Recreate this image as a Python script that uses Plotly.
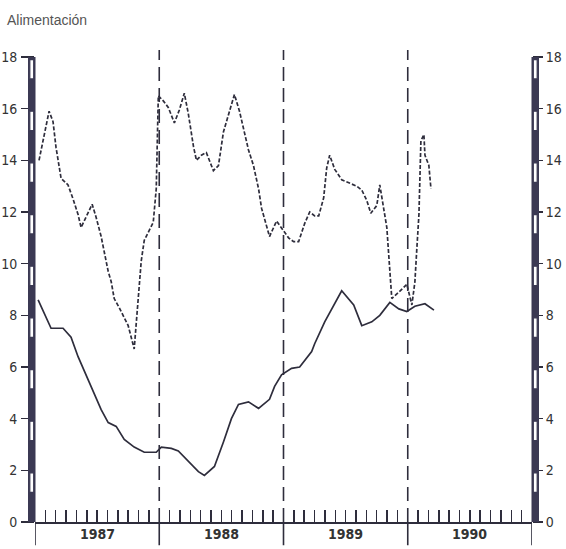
import plotly.graph_objects as go

# months since Jan 1987 (x) and values (%)
mes_discont = [0.39, 1.36, 1.74, 2.03, 2.52, 3.19, 3.68, 4.16, 4.45, 5.52, 5.9, 6.39, 7.07, 7.36,
               7.65, 8.13, 9.0, 9.58, 9.97, 10.26, 10.55, 11.42, 11.71, 11.91, 12.39, 12.87,
               13.46, 13.94, 14.42, 14.81, 15.3, 15.59, 16.07, 16.55, 17.23, 17.72, 18.2, 18.68,
               19.26, 19.75, 20.23, 20.62, 21.1, 21.59, 21.88, 22.36, 22.65, 23.33, 24.01, 24.49,
               24.98, 25.46, 26.04, 26.53, 27.01, 27.4, 27.88, 28.17, 28.46, 28.95, 29.62, 30.4,
               31.07, 31.56, 32.04, 32.43, 33.01, 33.3, 33.69, 33.98, 34.17, 34.46, 35.14, 35.91,
               36.4, 36.69, 36.88, 37.08, 37.27, 37.56, 37.66, 38.04, 38.24]
val_discont = [14.0, 15.9, 15.5, 14.5, 13.3, 13.05, 12.5, 11.9, 11.4, 12.3, 11.8, 11.05, 9.7, 9.3,
               8.65, 8.3, 7.6, 6.7, 8.65, 10.1, 10.9, 11.6, 12.9, 16.5, 16.3, 16.05,
               15.45, 15.95, 16.6, 15.8, 14.55, 14.0, 14.2, 14.3, 13.6, 13.8, 15.1, 15.8,
               16.55, 15.9, 15.0, 14.4, 13.8, 12.9, 12.15, 11.4, 11.05, 11.65, 11.25, 11.0,
               10.85, 10.85, 11.55, 12.0, 11.85, 11.85, 12.55, 13.7, 14.2, 13.65, 13.25, 13.1,
               13.0, 12.85, 12.45, 11.95, 12.25, 13.05, 12.15, 11.4, 10.3, 8.65, 8.9, 9.2,
               8.4, 9.3, 10.6, 11.9, 14.75, 15.0, 14.2, 13.8, 12.9]

mes_tend = [0.3, 1.55, 2.71, 3.48, 4.16, 5.42, 6.39, 7.07, 7.84, 8.62, 9.58, 10.55, 11.71, 12.2,
            13.17, 13.84, 14.81, 15.78, 16.36, 17.33, 18.2, 18.97, 19.65, 20.62, 21.59, 22.65,
            23.14, 23.81, 24.78, 25.56, 26.72, 27.01, 27.98, 29.62, 30.78, 31.56, 32.53, 33.3,
            34.27, 35.14, 35.91, 36.69, 37.66, 38.53]
val_tend = [8.6, 7.5, 7.5, 7.15, 6.4, 5.25, 4.35, 3.85, 3.7, 3.2, 2.9, 2.7, 2.7, 2.9,
            2.85, 2.75, 2.35, 1.95, 1.8, 2.15, 3.1, 4.0, 4.55, 4.65, 4.4, 4.75,
            5.25, 5.7, 5.95, 6.0, 6.6, 6.9, 7.75, 8.95, 8.4, 7.6, 7.75, 8.0,
            8.5, 8.25, 8.15, 8.35, 8.45, 8.2]

anios = ["1987", "1988", "1989", "1990"]
y_ticks = [0, 2, 4, 6, 8, 10, 12, 14, 16, 18]

INK = "#2e2d3c"
BAR = "#3b3953"
TICKFONT = dict(family="DejaVu Sans Condensed, DejaVu Sans", size=14, color="#333")

n_meses = 12 * len(anios)
limites = [12 * k for k in range(len(anios) + 1)]

fig = go.Figure()
fig.add_trace(go.Scatter(x=mes_discont, y=val_discont, mode="lines",
                         line=dict(color=INK, width=1.7, dash="4px,2px"),
                         showlegend=False, hoverinfo="skip"))
fig.add_trace(go.Scatter(x=mes_tend, y=val_tend, mode="lines",
                         line=dict(color=INK, width=1.7),
                         showlegend=False, hoverinfo="skip"))
fig.add_trace(go.Scatter(x=mes_tend, y=val_tend, mode="lines", yaxis="y2",
                         line=dict(color="rgba(0,0,0,0)", width=0),
                         showlegend=False, hoverinfo="skip"))

shapes = []
# year boundary lines
for b in limites:
    shapes.append(dict(type="line", xref="x", yref="paper", x0=b, x1=b, y0=-0.05, y1=0,
                       line=dict(color=INK, width=1.6)))
for b in limites[1:-1]:
    shapes.append(dict(type="line", xref="x", yref="paper", x0=b, x1=b, y0=0, y1=1.015,
                       line=dict(color=INK, width=1.6, dash="14px,7px")))

# ruler-like vertical bars on both sides
bw = 6.5 / 497
for (x0, x1) in [(-bw, 0), (1.0, 1.0 + bw)]:
    shapes.append(dict(type="rect", xref="paper", yref="y", x0=x0, x1=x1, y0=0, y1=18,
                       fillcolor=BAR, line=dict(color=BAR, width=1), layer="above"))
    for t in y_ticks[1:]:
        shapes.append(dict(type="rect", xref="paper", yref="y", x0=x0 + bw * 0.2, x1=x1 - bw * 0.2,
                           y0=t - 0.85, y1=t - 0.1,
                           fillcolor="white", line=dict(color=BAR, width=1.2), layer="above"))

annotations = []
for i, a in enumerate(anios):
    annotations.append(dict(x=12 * i + 6, y=-0.004, xref="x", yref="paper", text="<b>%s</b>" % a,
                            showarrow=False, yanchor="top", xanchor="center",
                            font=TICKFONT))
annotations.append(dict(x=0, y=1, xref="paper", yref="paper", xshift=-30, yshift=47,
                        text="Alimentación", showarrow=False, xanchor="left", yanchor="top",
                        font=dict(family="Liberation Sans, Arial, sans-serif", size=14, color="#555")))

minor = [m for m in range(1, n_meses) if m % 12 != 0]

fig.update_layout(
    template="none",
    width=566, height=549,
    margin=dict(l=35, r=34, t=57, b=27, autoexpand=False),
    paper_bgcolor="white", plot_bgcolor="white",
    hovermode=False,
    xaxis=dict(range=[0, n_meses], showgrid=False, zeroline=False, showline=True,
               linecolor=INK, linewidth=1.6, ticks="inside", tickvals=minor, ticklen=12,
               tickwidth=1.5, tickcolor=INK, showticklabels=False, fixedrange=True,
               automargin=False),
    yaxis=dict(range=[0, 18], showgrid=False, zeroline=False, showline=False,
               ticks="outside", tickvals=y_ticks, ticklen=13, tickwidth=1.6, tickcolor=INK,
               tickfont=TICKFONT, ticklabelstandoff=1, automargin=False,
               tickprefix="<b>", ticksuffix="</b>"),
    yaxis2=dict(range=[0, 18], overlaying="y", side="right", showgrid=False, zeroline=False,
                showline=False, ticks="outside", tickvals=y_ticks, ticklen=10, tickwidth=1.6,
                tickcolor=INK, tickfont=TICKFONT, automargin=False,
                tickprefix="<b>", ticksuffix="</b>"),
    shapes=shapes,
    annotations=annotations,
)

fig.write_html("out.html", config={"displayModeBar": False, "staticPlot": True},
               post_script="document.body.style.margin='0';document.body.style.overflow='hidden';")
